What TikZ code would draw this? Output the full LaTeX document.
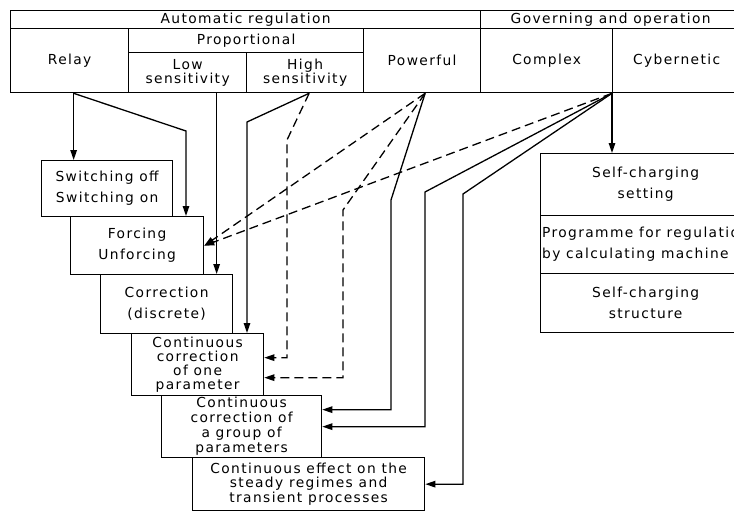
\documentclass[tikz,border=0pt]{standalone}
\usepackage{fontspec}
\newfontfamily\diagfont{DejaVu Sans}[LetterSpace=10]
\usepackage{tikz}
\usetikzlibrary{arrows.meta,calc}

\begin{document}
\begin{tikzpicture}[x=1pt,y=-1pt,
  cell/.style={draw,line width=1.3pt,inner sep=0pt,anchor=north west,align=center},
  loose/.style={font=\diagfont\fontsize{13.8}{21}\selectfont},
  tight/.style={font=\diagfont\fontsize{13.8}{14}\selectfont},
  link/.style={line width=1.3pt,-{Triangle[length=10pt,width=6.5pt]}},
  dlink/.style={link,dash pattern=on 9pt off 5pt}]
  \useasboundingbox (0,0) rectangle (734,512);
  \clip (0,0) rectangle (734,512);

  % header table
  \node[cell,tight,minimum width=470pt,minimum height=18pt] (autoreg) at (10,10) {Automatic regulation};
  \node[cell,tight,minimum width=260pt,minimum height=18pt] (govern) at (480,10) {Governing and operation};
  \node[cell,tight,minimum width=118pt,minimum height=64pt] (relay) at (10,28) {Relay};
  \node[cell,tight,minimum width=235pt,minimum height=24pt] (prop) at (128,28) {Proportional};
  \node[cell,tight,minimum width=118pt,minimum height=40pt] (lowsens) at (128,52) {Low\\sensitivity};
  \node[cell,tight,minimum width=117pt,minimum height=40pt] (highsens) at (246,52) {High\\sensitivity};
  \node[cell,tight,minimum width=117pt,minimum height=64pt] (powerful) at (363,28) {Powerful};
  \node[cell,tight,minimum width=132pt,minimum height=64pt] (complex) at (480,28) {Complex};
  \node[cell,tight,minimum width=128pt,minimum height=64pt] (cyber) at (612,28) {Cybernetic};

  % staircase of regulation modes
  \node[cell,loose,minimum width=131pt,minimum height=56pt] (switching) at (41,160) {Switching off\\Switching on};
  \node[cell,loose,minimum width=133pt,minimum height=58pt] (forcing) at (70,216) {Forcing\\Unforcing};
  \node[cell,loose,minimum width=132pt,minimum height=59pt] (correction) at (100,274) {Correction\\(discrete)};
  \node[cell,tight,minimum width=132pt,minimum height=62pt] (contone) at (131,333) {Continuous\\correction\\of one\\parameter};
  \node[cell,font=\diagfont\fontsize{13.8}{15}\selectfont,minimum width=160pt,minimum height=62pt] (contgroup) at (161,395) {Continuous\\correction of\\a group of\\parameters};
  \node[cell,font=\diagfont\fontsize{13.8}{14.5}\selectfont,minimum width=232pt,minimum height=53pt] (conteffect) at (192,457) {Continuous effect on the\\steady regimes and\\transient processes};

  % cybernetic column
  \node[cell,loose,minimum width=210pt,minimum height=62pt] (selfset) at (540,153) {Self-charging\\setting};
  \node[cell,loose,align=left,minimum width=210pt,minimum height=58pt] (programme) at (540,215) {Programme for regulation\\by calculating machine};
  \node[cell,loose,minimum width=210pt,minimum height=59pt] (selfstruct) at (540,273) {Self-charging\\structure};

  % outlets and bends
  \coordinate (relayout) at ([xshift=4pt]relay.south);
  \coordinate (lowout) at ([xshift=29pt]lowsens.south);
  \coordinate (highout) at ([xshift=4pt]highsens.south);
  \coordinate (powout) at ([xshift=3pt]powerful.south);
  \coordinate (cybout) at (cyber.south west);
  \coordinate (rbend) at (186,131);
  \coordinate (hbend) at (247,122);
  \coordinate (hdbend) at (287,140);
  \coordinate (pdbend) at (343,210);
  \coordinate (pbend) at (391,200);
  \coordinate (cbend1) at (425,192);
  \coordinate (cbend2) at (463,194);
  \coordinate (onein1) at ([yshift=7pt]contone.east);
  \coordinate (onein2) at ([yshift=-13pt]contone.east);
  \coordinate (groupin1) at ([yshift=17pt]contgroup.east);

  % connectors
  \draw[link] (relayout) -- (relayout |- switching.north);
  \draw[link] (relayout) -- (rbend) -- (rbend |- forcing.north);
  \draw[link] (lowout) -- (lowout |- correction.north);
  \draw[link] (highout) -- (hbend) -- (hbend |- contone.north);
  \draw[dlink] (highout) -- (hdbend) -- (hdbend |- onein1) -- (onein1);
  \draw[dlink] (powout) -- (forcing.east);
  \draw[dlink] (powout) -- (pdbend) -- (pdbend |- onein2) -- (onein2);
  \draw[link] (powout) -- (pbend) -- (pbend |- groupin1) -- (groupin1);
  \draw[dlink] (cybout) -- (forcing.east);
  \draw[link] (cybout) -- (cbend1) -- (cbend1 |- contgroup.east) -- (contgroup.east);
  \draw[link] (cybout) -- (cbend2) -- (cbend2 |- conteffect.east) -- (conteffect.east);
  \draw[link] (cybout) -- (cybout |- selfset.north);
\end{tikzpicture}
\end{document}
